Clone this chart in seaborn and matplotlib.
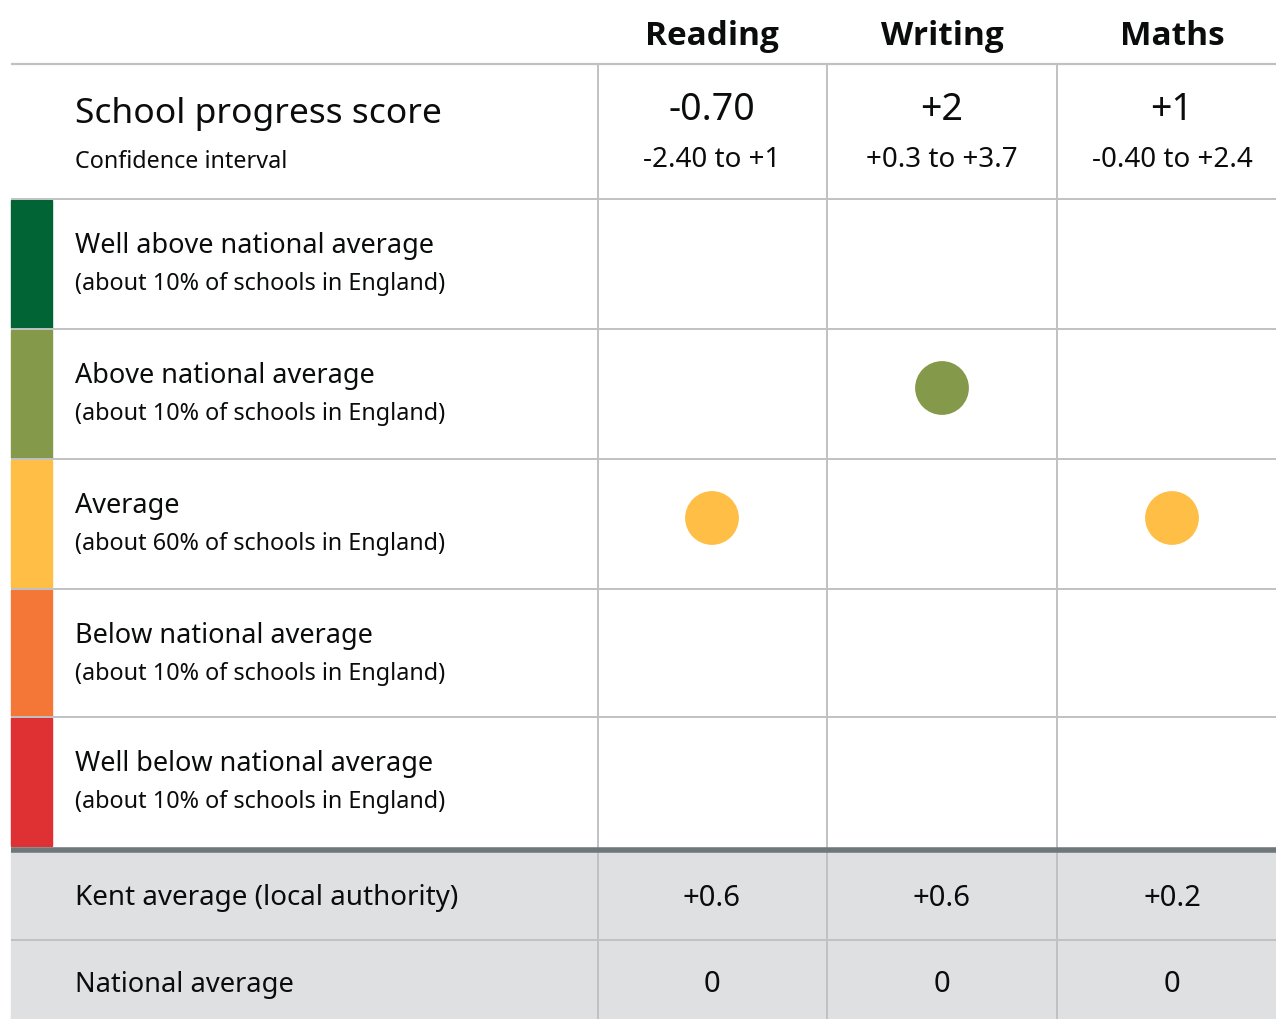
import matplotlib.pyplot as plt
import seaborn as sns
import pandas as pd
from matplotlib.patches import Rectangle

subjects = ["Reading", "Writing", "Maths"]
scores = ["-0.70", "+2", "+1"]
intervals = ["-2.40 to +1", "+0.3 to +3.7", "-0.40 to +2.4"]
bands = ["Well above national average", "Above national average", "Average",
         "Below national average", "Well below national average"]
band_notes = ["(about 10% of schools in England)", "(about 10% of schools in England)",
              "(about 60% of schools in England)", "(about 10% of schools in England)",
              "(about 10% of schools in England)"]
band_colors = ["#006435", "#85994b", "#ffbf47", "#f47738", "#df3034"]
subject_band = ["Average", "Above national average", "Average"]
kent_avg = ["+0.6", "+0.6", "+0.2"]
national_avg = ["0", "0", "0"]

sns.set_style("white")
plt.rcParams['font.family'] = ['Noto Sans', 'DejaVu Sans']

# layout in pixels
W, H = 1276, 1019
left, right = 11, 1276
col_edges = [598, 827, 1057]
col_centers = [712, 942, 1172]
row_edges = [199, 329, 459, 589, 717, 847]
# dots sit slightly above the middle of each band row
row_centers = {b: (row_edges[i] + row_edges[i + 1]) / 2 - 6 for i, b in enumerate(bands)}
grid = "#bfc1c3"
ink = "#0b0c0c"

fig = plt.figure(figsize=(W / 100, H / 100), dpi=100)
ax = fig.add_axes([0, 0, 1, 1])
ax.set_xlim(0, W)
ax.set_ylim(H, 0)
ax.axis("off")

# grey footer band
ax.add_patch(Rectangle((left, 850), right - left, H - 850, color="#dee0e2", zorder=0))

# colour keys
for i, c in enumerate(band_colors):
    ax.add_patch(Rectangle((left, row_edges[i] + 1), 41, row_edges[i + 1] - row_edges[i] - 2,
                           color=c, zorder=1))

# grid lines
ax.hlines(63.5, left, right, color=grid, lw=1.6, zorder=2)
ax.hlines(row_edges[:-1], left, right, color=grid, lw=1.4, zorder=2)
ax.hlines(940, left, right, color=grid, lw=1.4, zorder=2)
ax.vlines(col_edges, 64, H, color=grid, lw=1.4, zorder=2)
ax.hlines(850, left, right, color="#6f777b", lw=4, zorder=3)

# header
for x, s, sc, ci in zip(col_centers, subjects, scores, intervals):
    ax.text(x, 36, s, ha="center", va="center", fontsize=24, fontweight="bold", color=ink,
            family=["Open Sans", "DejaVu Sans"])
    ax.text(x, 110, sc, ha="center", va="center", fontsize=27, color=ink)
    ax.text(x, 160, ci, ha="center", va="center", fontsize=20, color=ink)
ax.text(75, 114, "School progress score", ha="left", va="center", fontsize=25.5, color=ink)
ax.text(75, 162, "Confidence interval", ha="left", va="center", fontsize=16.8, color=ink)

# band labels
for i, (b, n) in enumerate(zip(bands, band_notes)):
    ax.text(75, row_edges[i] + 47, b, ha="left", va="center", fontsize=19.5, color=ink)
    ax.text(75, row_edges[i] + 85, n, ha="left", va="center", fontsize=16.8, color=ink)

# dots
df = pd.DataFrame({"subject": subjects, "band": subject_band})
df["x"] = df["subject"].map(dict(zip(subjects, col_centers)))
df["y"] = df["band"].map(row_centers)
sns.scatterplot(data=df, x="x", y="y", hue="band", palette=dict(zip(bands, band_colors)),
                s=1500, linewidth=0, legend=False, ax=ax, zorder=4)
ax.set_xlabel("")
ax.set_ylabel("")

# footer rows
ax.text(75, 898, "Kent average (local authority)", ha="left", va="center", fontsize=20, color=ink)
ax.text(75, 985, "National average", ha="left", va="center", fontsize=19.6, color=ink)
for x, k, n in zip(col_centers, kent_avg, national_avg):
    ax.text(x, 898, k, ha="center", va="center", fontsize=21, color=ink)
    ax.text(x, 985, n, ha="center", va="center", fontsize=21, color=ink)

fig.savefig("out.png", dpi=100)
